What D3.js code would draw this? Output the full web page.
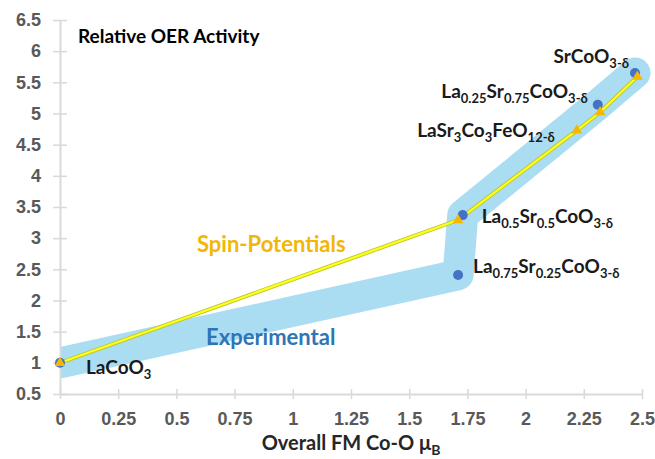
<!DOCTYPE html>
<html>
<head>
<meta charset="utf-8">
<script src="https://cdn.jsdelivr.net/npm/d3@7"></script>
<style>
  body { margin: 0; background: #fff; }
  svg { font-family: Lato, "Open Sans", sans-serif; }
</style>
</head>
<body>
<svg id="chart"></svg>
<script>
// compounds, in order of FM Co-O moment
const compounds = ["LaCoO_{3}", "La_{0.75}Sr_{0.25}CoO_{3-δ}", "La_{0.5}Sr_{0.5}CoO_{3-δ}",
    "LaSr_{3}Co_{3}FeO_{12-δ}", "La_{0.25}Sr_{0.75}CoO_{3-δ}", "SrCoO_{3-δ}"];
// experimental (blue dots)
const expX = [0, 1.71, 1.73, null, 2.31, 2.47];
const expY = [1, 2.41, 3.37, null, 5.14, 5.65];
// spin-potentials (orange triangles, yellow line)
const spinX = [0, null, 1.71, 2.22, 2.32, 2.48];
const spinY = [1, null, 3.29, 4.73, 5.02, 5.59];
const xTicks = [0, 0.25, 0.5, 0.75, 1, 1.25, 1.5, 1.75, 2, 2.25, 2.5];
const yTicks = [0.5, 1, 1.5, 2, 2.5, 3, 3.5, 4, 4.5, 5, 5.5, 6, 6.5];

const width = 655, height = 459;
const margin = { top: 20, right: 13, bottom: 65, left: 60 };

const svg = d3.select("#chart").attr("width", width).attr("height", height);

const x = d3.scaleLinear().domain([0, 2.5]).range([margin.left, width - margin.right]);
const y = d3.scaleLinear().domain([0.5, 6.5]).range([height - margin.bottom, margin.top]);

const exp = compounds.map((c, i) => ({ name: c, x: expX[i], y: expY[i] })).filter(d => d.x != null);
const spin = compounds.map((c, i) => ({ name: c, x: spinX[i], y: spinY[i] })).filter(d => d.x != null);

// blue band behind the experimental trend
svg.append("clipPath").attr("id", "plotclip")
    .append("rect")
    .attr("x", x(0)).attr("y", 0)
    .attr("width", width - x(0)).attr("height", height);

svg.append("path")
    .datum(exp)
    .attr("clip-path", "url(#plotclip)")
    .attr("fill", "none")
    .attr("stroke", "#aadcf2")
    .attr("stroke-width", 31)
    .attr("stroke-linejoin", "round")
    .attr("stroke-linecap", "round")
    .attr("d", d3.line().x(d => x(d.x)).y(d => y(d.y)));

// axes
const xAxis = svg.append("g")
    .attr("transform", `translate(0,${y(0.5)})`)
    .call(d3.axisBottom(x).tickValues(xTicks).tickSize(0).tickPadding(18)
        .tickFormat(d => d));
const yAxis = svg.append("g")
    .attr("transform", `translate(${x(0)},0)`)
    .call(d3.axisLeft(y).tickValues(yTicks).tickSize(0).tickPadding(19)
        .tickFormat(d => d));

[xAxis, yAxis].forEach(g => {
    g.select(".domain").attr("stroke", "#d9d9d9").attr("stroke-width", 2);
    g.selectAll("text").attr("fill", "#595959")
        .style("font-size", "18px").style("font-weight", 700);
});

// tick marks cross the axis line
xAxis.selectAll(".tick").append("line")
    .attr("y1", -5).attr("y2", 5).attr("stroke", "#d9d9d9").attr("stroke-width", 1.5);
yAxis.selectAll(".tick").append("line")
    .attr("x1", -7).attr("x2", 7).attr("stroke", "#d9d9d9").attr("stroke-width", 1.5);

// yellow spin-potential line
const line = d3.line().x(d => x(d.x)).y(d => y(d.y));
svg.append("path").datum(spin)
    .attr("fill", "none").attr("stroke", "#bcc832").attr("stroke-width", 4)
    .attr("d", line);
svg.append("path").datum(spin)
    .attr("fill", "none").attr("stroke", "#ffff1a").attr("stroke-width", 2.2)
    .attr("d", line);

// blue experimental dots
svg.append("g").selectAll("circle")
    .data(exp)
    .join("circle")
    .attr("cx", d => x(d.x)).attr("cy", d => y(d.y))
    .attr("r", 5)
    .attr("fill", "#4472c4");

// orange triangles
svg.append("g").selectAll("path")
    .data(spin)
    .join("path")
    .attr("transform", d => `translate(${x(d.x)},${y(d.y)})`)
    .attr("d", d3.symbol(d3.symbolTriangle, 50))
    .attr("fill", "#f5b800");

// label text with subscripts written as _{...}
function richText(sel, str, subSize) {
    const parts = str.split(/(_\{[^}]*\})/).filter(s => s.length);
    let down = false;
    parts.forEach(p => {
        if (p.startsWith("_{")) {
            sel.append("tspan").attr("dy", down ? 0 : 5).style("font-size", subSize)
                .text(p.slice(2, -1));
            down = true;
        } else {
            sel.append("tspan").attr("dy", down ? -5 : 0).text(p);
            down = false;
        }
    });
}

// where each compound label sits relative to its point
const labelPos = {
    "LaCoO_{3}": { ref: "exp", dx: 26, dy: 11, anchor: "start" },
    "La_{0.75}Sr_{0.25}CoO_{3-δ}": { ref: "exp", dx: 15, dy: -2, anchor: "start" },
    "La_{0.5}Sr_{0.5}CoO_{3-δ}": { ref: "exp", dx: 19, dy: 8, anchor: "start" },
    "LaSr_{3}Co_{3}FeO_{12-δ}": { ref: "spin", dx: -22, dy: 7, anchor: "end" },
    "La_{0.25}Sr_{0.75}CoO_{3-δ}": { ref: "exp", dx: -10, dy: -7, anchor: "end" },
    "SrCoO_{3-δ}": { ref: "exp", dx: -6, dy: -10, anchor: "end" }
};

compounds.forEach(c => {
    const p = labelPos[c];
    const pt = (p.ref === "exp" ? exp : spin).find(d => d.name === c);
    const t = svg.append("text")
        .attr("x", x(pt.x) + p.dx).attr("y", y(pt.y) + p.dy)
        .attr("text-anchor", p.anchor)
        .style("font-size", "19px").style("font-weight", 700)
        .attr("fill", "#1a1a1a");
    richText(t, c, "13px");
});

// series names
svg.append("text").attr("x", 197).attr("y", 252)
    .style("font-size", "22px").style("font-weight", 700)
    .attr("fill", "#f2b705").text("Spin-Potentials");
svg.append("text").attr("x", 206).attr("y", 345)
    .style("font-size", "22px").style("font-weight", 700)
    .attr("fill", "#2e75b6").text("Experimental");

// chart title
svg.append("text").attr("x", 78).attr("y", 43)
    .style("font-size", "19px").style("font-weight", 700)
    .attr("fill", "#000").text("Relative OER Activity");

// x axis title
const xt = svg.append("text").attr("x", (x(0) + x(2.5)) / 2).attr("y", 450)
    .attr("text-anchor", "middle")
    .style("font-size", "20px").style("font-weight", 700)
    .attr("fill", "#262626");
richText(xt, "Overall FM Co-O μ_{B}", "14px");
</script>
</body>
</html>
